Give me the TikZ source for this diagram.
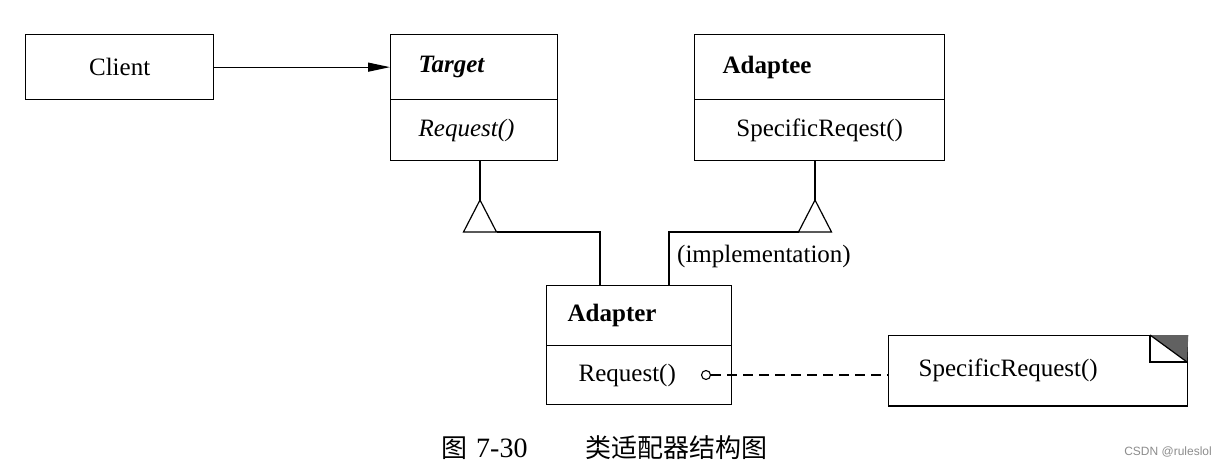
\documentclass[tikz,border=0pt]{standalone}
\usepackage{fontspec}
\setmainfont{Liberation Serif}
\newfontfamily\cjk{Noto Sans CJK SC}
\newfontfamily\wmfont{Liberation Sans}
\usetikzlibrary{arrows.meta}
\begin{document}
\begin{tikzpicture}[x=1pt,y=-1pt,
  every node/.style={font=\fontsize{25}{29}\selectfont},
  box/.style={draw, line width=1.3pt, rectangle, anchor=north west, inner ysep=0pt},
  line/.style={line width=1.2pt},
  tri/.style={line width=1.2pt, fill=white}]
\useasboundingbox (0,0) rectangle (1228,468);
% Client
\node[box, minimum width=188pt, minimum height=65pt] (client) at (25,34) {Client};
% Target
\node[box, minimum height=65pt, inner xsep=28pt, text width=111pt, align=left] (targetH) at (390,34) {\textbf{\textit{Target}}};
\node[box, minimum height=61pt, inner xsep=28pt, text width=111pt, align=left] (targetB) at (390,99) {\textit{Request()}};
% Adaptee
\node[box, minimum height=65pt, inner xsep=28pt, text width=194pt, align=left] (adapteeH) at (694,34) {\textbf{Adaptee}};
\node[box, minimum width=250pt, minimum height=61pt] (adapteeB) at (694,99) {SpecificReqest()};
% Adapter
\node[box, minimum height=60pt, inner xsep=21pt, text width=143pt, align=left] (adapterH) at (546,285) {\textbf{Adapter}};
\node[box, minimum height=59pt, inner xsep=32pt, text width=121pt, align=left] (adapterB) at (546,345) {Request()};
% Note
\node[box, minimum width=299pt, minimum height=70pt, inner xsep=30pt, text width=239pt, align=left] (note) at (888,335) {SpecificRequest()};
\coordinate (f1) at (1150,335);
\coordinate (f2) at (1187,362);
\fill[black!62] (f1) -- (note.north east) -- (f2) -- cycle;
\draw[line] (f1) -- (f1 |- f2) -- (f2);
\draw[line] (f1) -- (f2);
\draw[line width=2pt] (note.south west) -- (note.south east);
% Client -> Target
\draw[line, -{Triangle[length=22pt,width=9pt]}] (client.east) -- (client.east -| targetH.west);
% Generalization to Target
\coordinate (a1) at (480,200);
\coordinate (b1r) at (496.5,232);
\coordinate (k1) at (600,232);
\draw[line] (a1) -- (a1 |- targetB.south);
\draw[tri] (a1) -- ++(-16.5,32) -- ++(33,0) -- cycle;
\draw[line] (b1r) -- (k1) -- (k1 |- adapterH.north);
% Implementation to Adaptee
\coordinate (a2) at (815,200);
\coordinate (b2l) at (798.5,232);
\coordinate (k2) at (669,232);
\draw[line] (a2) -- (a2 |- adapteeB.south);
\draw[tri] (a2) -- ++(-16.5,32) -- ++(33,0) -- cycle;
\draw[line] (b2l) -- (k2) -- (k2 |- adapterH.north);
\node[anchor=west, inner sep=0pt] (impl) at (677,256) {(implementation)};
% Dashed link
\node[draw, circle, line width=1.1pt, minimum size=9pt, inner sep=0pt] (dot) at (706,375) {};
\draw[line, dash pattern=on 10pt off 6pt] (dot.east) -- (dot.east -| note.west);
% Caption
\node[anchor=west, inner sep=0pt, font=\fontsize{26}{30}\selectfont] (cap) at (441,448) {{\cjk 图}\hspace{9pt}{\fontsize{28}{30}\selectfont 7-30}\hspace{58pt}{\cjk 类适配器结构图}};
\node[anchor=east, inner sep=0pt, text=black!45, font=\wmfont\fontsize{12}{14}\selectfont] (wm) at (1212,452) {CSDN @ruleslol};
\end{tikzpicture}
\end{document}
